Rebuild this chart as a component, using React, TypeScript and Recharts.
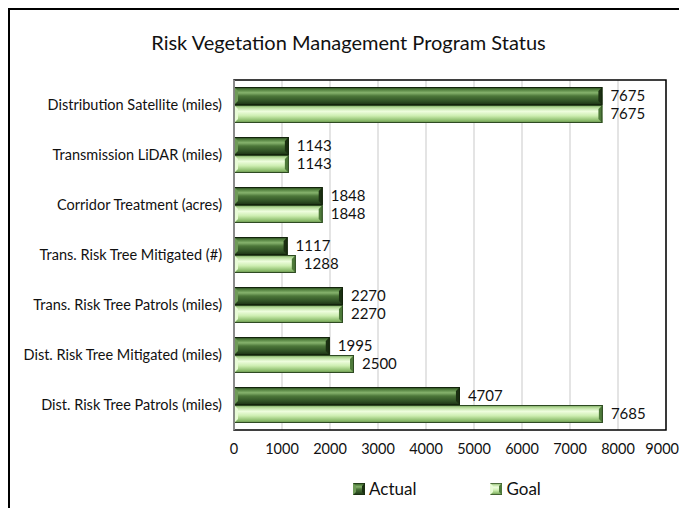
import React from "react";
import { BarChart, Bar, XAxis, YAxis, CartesianGrid, LabelList, ReferenceArea, ReferenceLine } from "recharts";

const categories = [
  "Distribution Satellite (miles)",
  "Transmission LiDAR (miles)",
  "Corridor Treatment (acres)",
  "Trans. Risk Tree Mitigated (#)",
  "Trans. Risk Tree Patrols (miles)",
  "Dist. Risk Tree Mitigated (miles)",
  "Dist. Risk Tree Patrols (miles)",
];
const actual = [7675, 1143, 1848, 1117, 2270, 1995, 4707];
const goal = [7675, 1143, 1848, 1288, 2270, 2500, 7685];
const xTicks = [0, 1000, 2000, 3000, 4000, 5000, 6000, 7000, 8000, 9000];

const data = categories.map((name, i) => ({ name, actual: actual[i], goal: goal[i] }));

const font = "Lato, 'Liberation Sans', sans-serif";

// beveled bar like the excel style
const BevelBar = (props: any) => {
  const { x, y, width, height, fill, edge, light, dark } = props;
  if (!width || width <= 0) return null;
  const b = Math.min(4, width / 2);
  return (
    <g>
      <rect x={x} y={y} width={width} height={height} fill={fill} />
      <polygon
        points={`${x},${y} ${x + b},${y + b} ${x + b},${y + height - b} ${x},${y + height}`}
        fill={light}
      />
      <polygon
        points={`${x + width},${y} ${x + width - b},${y + b} ${x + width - b},${y + height - b} ${x + width},${y + height}`}
        fill={dark}
      />
      <rect x={x + 0.5} y={y + 0.5} width={width - 1} height={height - 1} fill="none" stroke={edge} strokeWidth={1} />
    </g>
  );
};

const LegendMark = ({ id }: { id: string }) => (
  <svg width={12} height={12} style={{ marginRight: 4 }}>
    <rect x={0} y={0} width={12} height={12} fill={`url(#${id})`} stroke="#1b2e12" strokeWidth={1} />
    <polygon points="0,0 3,3 3,9 0,12" fill={id === "gActual" ? "#6f9b58" : "#e8fbd6"} />
    <polygon points="12,0 9,3 9,9 12,12" fill={id === "gActual" ? "#1b3012" : "#4e7a3a"} />
  </svg>
);

export default function App() {
  return (
    <div
      style={{
        position: "relative",
        width: 669,
        height: 498,
        paddingTop: 2,
        paddingLeft: 2,
        background: "#fff",
        fontFamily: font,
      }}
    >
      <style>{"html{overflow:hidden} .recharts-surface{overflow:visible}"}</style>
      {/* outer frame, runs off the right and bottom */}
      <div style={{ position: "absolute", top: 0, left: 0, width: 700, height: 2, background: "#000" }} />
      <div style={{ position: "absolute", top: 0, left: 0, width: 2, height: 520, background: "#000" }} />
      <div
        style={{
          position: "absolute",
          top: 22,
          left: 2,
          width: 677,
          textAlign: "center",
          fontSize: 20,
          color: "#111",
        }}
      >
        Risk Vegetation Management Program Status
      </div>
      <BarChart
        width={669}
        height={496}
        data={data}
        layout="vertical"
        margin={{ top: 70, right: 13, left: 0, bottom: 46 }}
        barCategoryGap={14}
        barGap={0}
      >
        <defs>
          <linearGradient id="gActual" x1="0" y1="0" x2="0" y2="1">
            <stop offset="0" stopColor="#1f3a16" />
            <stop offset="0.14" stopColor="#4f7d3b" />
            <stop offset="0.32" stopColor="#86b36d" />
            <stop offset="0.5" stopColor="#4c7739" />
            <stop offset="0.8" stopColor="#2f5024" />
            <stop offset="1" stopColor="#1b3012" />
          </linearGradient>
          <linearGradient id="gGoal" x1="0" y1="0" x2="0" y2="1">
            <stop offset="0" stopColor="#6e9a55" />
            <stop offset="0.15" stopColor="#b8dd9c" />
            <stop offset="0.35" stopColor="#effedf" />
            <stop offset="0.6" stopColor="#cdeeb1" />
            <stop offset="0.85" stopColor="#8fbe6f" />
            <stop offset="1" stopColor="#5f8a47" />
          </linearGradient>
        </defs>
        <CartesianGrid horizontal={false} vertical stroke="#c9c9c9" />
        <XAxis
          type="number"
          domain={[0, 9000]}
          ticks={xTicks}
          height={30}
          axisLine={false}
          tickLine={false}
          tick={{ fontSize: 14.5, fill: "#111", fontFamily: font }}
          tickMargin={8}
        />
        <YAxis
          type="category"
          dataKey="name"
          width={224}
          axisLine={false}
          tickLine={false}
          tick={{ fontSize: 14.5, fill: "#111", fontFamily: font }}
          tickMargin={6}
        />
        {/* plot area frame */}
        <ReferenceArea
          x1={0}
          x2={9000}
          y1={categories[0]}
          y2={categories[categories.length - 1]}
          fill="none"
          stroke="#000"
          strokeWidth={1.5}
          fillOpacity={0}
          ifOverflow="visible"
        />
        <ReferenceLine x={0} stroke="#a6a6a6" strokeWidth={1.5} ifOverflow="visible" />
        <Bar
          dataKey="actual"
          barSize={18}
          fill="url(#gActual)"
          isAnimationActive={false}
          shape={(p: any) => <BevelBar {...p} edge="#13230c" light="#6f9b58" dark="#1b3012" />}
        >
          <LabelList dataKey="actual" position="right" offset={8} style={{ fontSize: 15, fill: "#111", fontFamily: font }} />
        </Bar>
        <Bar
          dataKey="goal"
          barSize={18}
          fill="url(#gGoal)"
          isAnimationActive={false}
          shape={(p: any) => <BevelBar {...p} edge="#2e4a22" light="#e8fbd6" dark="#4e7a3a" />}
        >
          <LabelList dataKey="goal" position="right" offset={8} style={{ fontSize: 15, fill: "#111", fontFamily: font }} />
        </Bar>
      </BarChart>
      <div
        style={{
          position: "absolute",
          top: 470,
          left: 345,
          display: "flex",
          alignItems: "center",
          fontSize: 17,
          color: "#111",
        }}
      >
        <span style={{ display: "flex", alignItems: "center", marginRight: 74 }}>
          <LegendMark id="gActual" />
          Actual
        </span>
        <span style={{ display: "flex", alignItems: "center" }}>
          <LegendMark id="gGoal" />
          Goal
        </span>
      </div>
    </div>
  );
}
